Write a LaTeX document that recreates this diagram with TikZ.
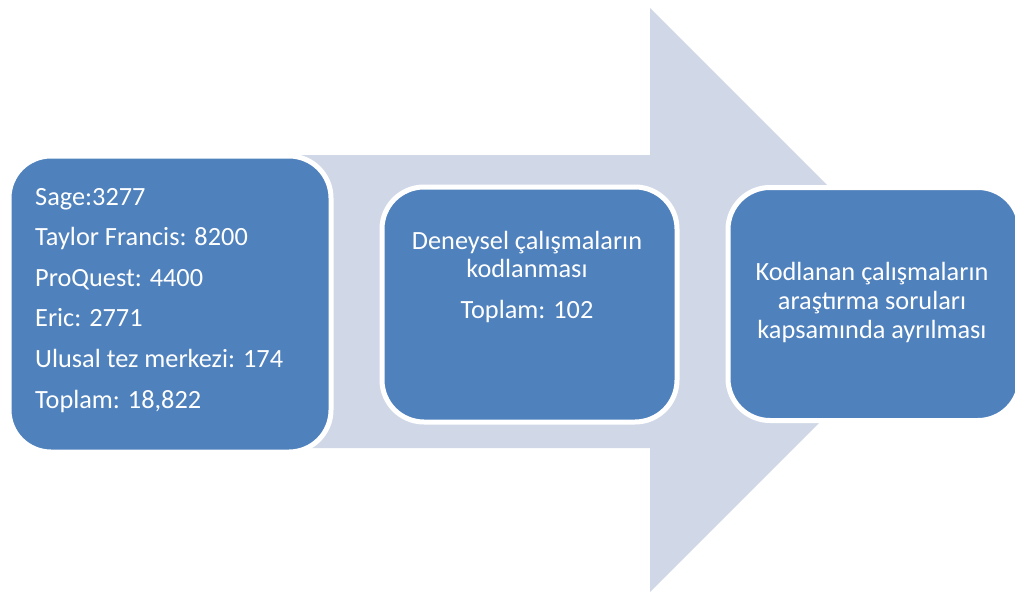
\documentclass[tikz,border=0pt]{standalone}
\usepackage{fontspec}
\setmainfont{Carlito}
\definecolor{boxblue}{HTML}{4F81BD}
\definecolor{arrowgray}{HTML}{D0D8E8}
\begin{document}
\begin{tikzpicture}[x=1pt,y=-1pt,
  box/.style={draw=white, line width=5pt, fill=boxblue, rounded corners=42pt, inner sep=0pt, anchor=north west},
  txt/.style={text=white, font=\fontsize{26.3}{31}\selectfont, inner sep=0pt}]
\useasboundingbox (0,0) rectangle (1015,594);
% big background arrow
\fill[arrowgray] (120,155) -- (650,155) -- (650,8) -- (942,300) -- (650,592) -- (650,448) -- (120,448) -- cycle;
% boxes
\node[box, minimum width=322pt, minimum height=296pt] (b1) at (6.5,153.5) {};
\node[box, minimum width=295pt, minimum height=235pt] (b2) at (379.5,184.5) {};
\node[box, minimum width=292pt, minimum height=233pt] (b3) at (725.5,185) {};
% box 1 text
\node[txt, anchor=base west] (t1a) at (35,205) {Sage:3277};
\node[txt, anchor=base west] (t1b) at (35,245.6) {Taylor Francis: 8200};
\node[txt, anchor=base west] (t1c) at (35,286.2) {ProQuest: 4400};
\node[txt, anchor=base west] (t1d) at (35,326.8) {Eric: 2771};
\node[txt, anchor=base west] (t1e) at (35,367.4) {Ulusal tez merkezi: 174};
\node[txt, anchor=base west] (t1f) at (35,408) {Toplam: 18,822};
% box 2 text
\node[txt, anchor=base] (t2a) at (527,249) {Deneysel çalışmaların};
\node[txt, anchor=base] (t2b) at (527,277) {kodlanması};
\node[txt, anchor=base] (t2c) at (527,318) {Toplam: 102};
% box 3 text
\node[txt, anchor=base] (t3a) at (872,280) {Kodlanan çalışmaların};
\node[txt, anchor=base] (t3b) at (872,309) {araştırma soruları};
\node[txt, anchor=base] (t3c) at (872,338) {kapsamında ayrılması};
\end{tikzpicture}
\end{document}
